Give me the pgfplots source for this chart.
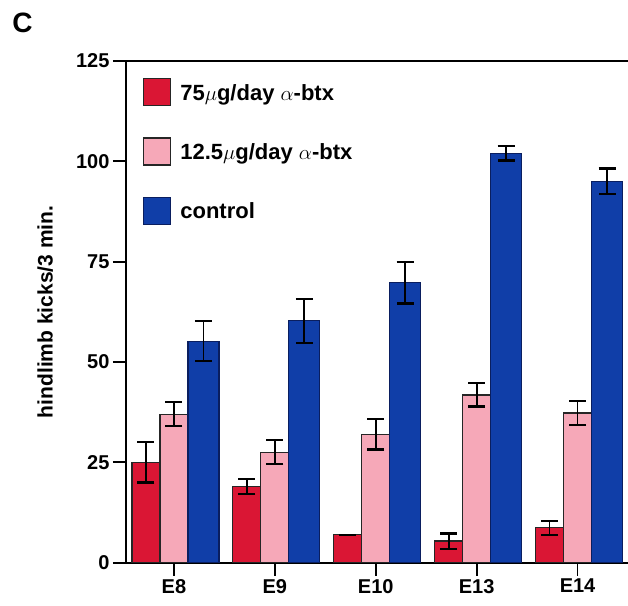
\documentclass[border=0pt]{standalone}
\usepackage{pgfplots}
\pgfplotsset{compat=1.18}
\usepackage{pgfplotstable}
\usepackage{fontspec}
\setmainfont{Liberation Sans}
\definecolor{cred}{RGB}{218,22,52}
\definecolor{cpink}{RGB}{246,168,184}
\definecolor{cblue}{RGB}{16,62,168}
\definecolor{cnavy}{RGB}{10,30,95}

\pgfplotstableread{
x y e
0 25.0 5.0
1 19.0 1.9
2 7.0 0.0
3 5.4 1.9
4 8.7 1.7
}\tabred
\pgfplotstableread{
x y e
0 37.0 3.0
1 27.5 3.0
2 32.0 3.8
3 41.8 2.9
4 37.3 2.9
}\tabpink
\pgfplotstableread{
x y e
0 55.2 5.0
1 60.3 5.5
2 69.8 5.2
3 102.0 1.8
4 95.0 3.2
}\tabblue

\begin{document}
\begin{tikzpicture}
\begin{axis}[
  at={(0,0)}, anchor=south west,
  scale only axis, width=502pt, height=501.7pt,
  ybar,
  xmin=-0.475, xmax=4.5, ymin=0, ymax=125,
  xtick={0,1,2,3,4}, xticklabels={E8,E9,E10,E13,E14},
  ytick={0,25,50,75,100,125},
  axis x line*=box, axis y line*=left,
  x axis line style={-, line width=1.8pt},
  y axis line style={-, line width=1.8pt},
  xtick pos=bottom, ytick pos=left,
  tick align=outside, major tick length=13pt,
  tick style={line width=1.8pt, black},
  /pgf/number format/assume math mode=true,
  tick label style={font=\fontsize{20}{24}\selectfont\bfseries},
  ylabel={hindlimb kicks/3 min.},
  ylabel style={at={(axis description cs:-0.161,0.5)}, anchor=center, font=\fontsize{21}{25}\selectfont\bfseries},
  legend style={at={(0.034,0.966)}, anchor=north west, draw=none, fill=none,
    inner sep=0pt, outer sep=0pt, row sep=31pt, column sep=7pt,
    font=\fontsize{22}{26}\selectfont\bfseries},
  legend cell align=left,
  legend image code/.code={\draw[#1, line width=1.3pt] (0pt,-12.8pt) rectangle (27pt,14.2pt);},
  error bars/error bar style={black, line width=1.8pt},
  error bars/error mark options={black, line width=2.2pt, mark size=8.5pt, rotate=90},
  clip=false,
]
\addplot[bar width=28pt, bar shift=-28pt, fill=cred, draw=black!85, line width=1.2pt,
  error bars/.cd, y dir=both, y explicit]
  table[x=x, y=y, y error=e] {\tabred};
\addlegendentry{75$\mu$g/day $\alpha$-btx}
\addplot[bar width=28pt, bar shift=0pt, fill=cpink, draw=black!85, line width=1.2pt,
  error bars/.cd, y dir=both, y explicit]
  table[x=x, y=y, y error=e] {\tabpink};
\addlegendentry{12.5$\mu$g/day $\alpha$-btx}
\addplot[bar width=31pt, bar shift=29.5pt, fill=cblue, draw=cnavy, line width=1.2pt,
  error bars/.cd, y dir=both, y explicit]
  table[x=x, y=y, y error=e] {\tabblue};
\addlegendentry{control}
\node[font=\fontsize{28}{32}\selectfont\bfseries, anchor=center] at (axis description cs:-0.206,1.0757) {C};
\end{axis}
\pgfresetboundingbox
\path[use as bounding box] (-126pt,-42.3pt) rectangle (502pt,562.7pt);
\end{tikzpicture}
\end{document}
